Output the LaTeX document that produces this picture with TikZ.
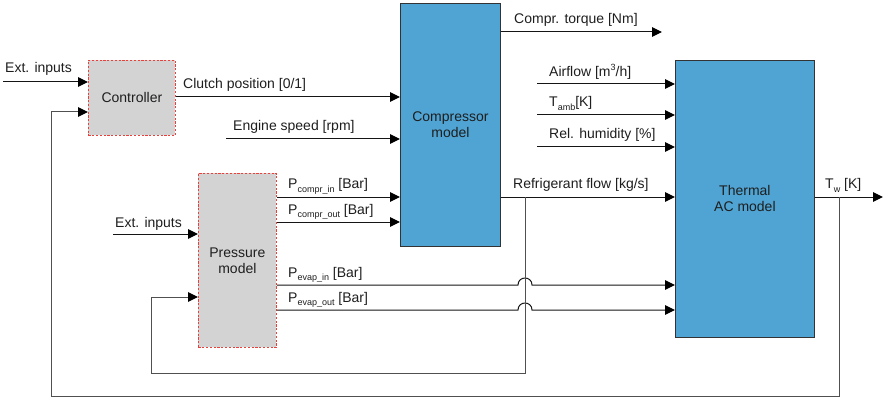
\documentclass[tikz,border=0pt]{standalone}
\usepackage{fontspec}
\setmainfont{Liberation Sans}
\usetikzlibrary{arrows.meta}
\definecolor{boxblue}{HTML}{4FA4D3}
\definecolor{boxgray}{HTML}{D2D3D2}
\definecolor{dashred}{HTML}{E8413C}
\definecolor{wire}{HTML}{151515}
\definecolor{loopwire}{HTML}{505050}
\definecolor{ink}{HTML}{1E1E1E}
\newcommand\lowidx[1]{\raisebox{-0.45ex}{\fontsize{9}{9}\selectfont #1}}
\newcommand\highidx[1]{\raisebox{0.85ex}{\fontsize{9}{9}\selectfont #1}}
\begin{document}
\begin{tikzpicture}[x=1pt,y=-1pt,font=\fontsize{14}{16}\selectfont,
  block/.style={anchor=north west,inner sep=0pt,align=center,text=ink},
  blue block/.style={block,fill=boxblue,draw=black!80,line width=0.8pt},
  gray block/.style={block,fill=boxgray,draw=dashred,dash pattern=on 2.2pt off 1.6pt,line width=0.8pt},
  tip/.style={-{Triangle[length=10pt,width=9.5pt,color=black]}},
  arr/.style={draw=wire,line width=1pt,tip},
  loopline/.style={draw=loopwire,line width=1pt},
  lbl/.style={anchor=base west,inner sep=0pt,text=ink}]
\useasboundingbox (0,0) rectangle (885,398);

% blocks
\node[gray block,minimum width=87pt,minimum height=75pt] (ctrl) at (88,60) {Controller};
\node[blue block,minimum width=100pt,minimum height=243pt] (comp) at (400,3) {Compressor\\model};
\node[gray block,minimum width=78pt,minimum height=174pt] (pres) at (198,173) {Pressure\\model};
\node[blue block,minimum width=139pt,minimum height=277pt] (therm) at (675,60) {Thermal\\AC model};

% free ends of the external signals
\coordinate (extA) at (3,82);
\coordinate (extB) at (113,234);
\coordinate (engine) at (226,139);
\coordinate (torque) at (662,32);
\coordinate (air) at (537,84);
\coordinate (tamb) at (537,115);
\coordinate (hum) at (537,147);
\coordinate (twout) at (883,197);
\coordinate (reftap) at (525,197);
\coordinate (twtap) at (839,197);

% controller
\draw[arr] (extA) -- (ctrl.west |- extA);
\node[lbl] (lextA) at (5,73) {Ext. inputs};
\draw[arr] (ctrl.east |- 0,97) -- (comp.west |- 0,97);
\node[lbl] (lclutch) at (183,89) {Clutch position [0/1]};
\draw[arr] (engine) -- (comp.west |- engine);
\node[lbl] (lengine) at (233,131) {Engine speed [rpm]};

% compressor
\draw[arr] (comp.east |- torque) -- (torque);
\node[lbl] (ltorque) at (514,24) {Compr. torque [Nm]};
\draw[arr] (comp.east |- 0,197) -- (therm.west |- 0,197);
\node[lbl] (lref) at (513,189) {Refrigerant flow [kg/s]};

% pressure model
\draw[arr] (extB) -- (pres.west |- extB);
\node[lbl] (lextB) at (115,227) {Ext. inputs};
\draw[arr] (pres.east |- 0,197) -- (comp.west |- 0,197);
\node[lbl] (lpci) at (288,189) {P\lowidx{compr\_in} [Bar]};
\draw[arr] (pres.east |- 0,222) -- (comp.west |- 0,222);
\node[lbl] (lpco) at (288,214) {P\lowidx{compr\_out} [Bar]};
\draw[arr] (pres.east |- 0,285) -- (518,285)
  .. controls (518,275.7) and (532,275.7) .. (532,285) -- (therm.west |- 0,285);
\node[lbl] (lpei) at (288,277) {P\lowidx{evap\_in} [Bar]};
\draw[arr] (pres.east |- 0,310) -- (518,310)
  .. controls (518,300.7) and (532,300.7) .. (532,310) -- (therm.west |- 0,310);
\node[lbl] (lpeo) at (288,302) {P\lowidx{evap\_out} [Bar]};

% thermal model inputs
\draw[arr] (air) -- (therm.west |- air);
\node[lbl] (lair) at (549,77) {Airflow [m\highidx{3}/h]};
\draw[arr] (tamb) -- (therm.west |- tamb);
\node[lbl] (ltamb) at (549,107) {T\lowidx{amb}[K]};
\draw[arr] (hum) -- (therm.west |- hum);
\node[lbl] (lhum) at (549,139) {Rel. humidity [\%]};

% thermal model output
\draw[arr] (therm.east |- twout) -- (twout);
\node[lbl] (ltw) at (825,189) {T\lowidx{w} [K]};

% feedback loops
\draw[loopline,tip] (twtap) -- (839,396) -- (51,396) -- (51,112) -- (ctrl.west |- 0,112);
\draw[loopline,tip] (reftap) -- (525,373) -- (151,373) -- (151,297) -- (pres.west |- 0,297);
\end{tikzpicture}
\end{document}
